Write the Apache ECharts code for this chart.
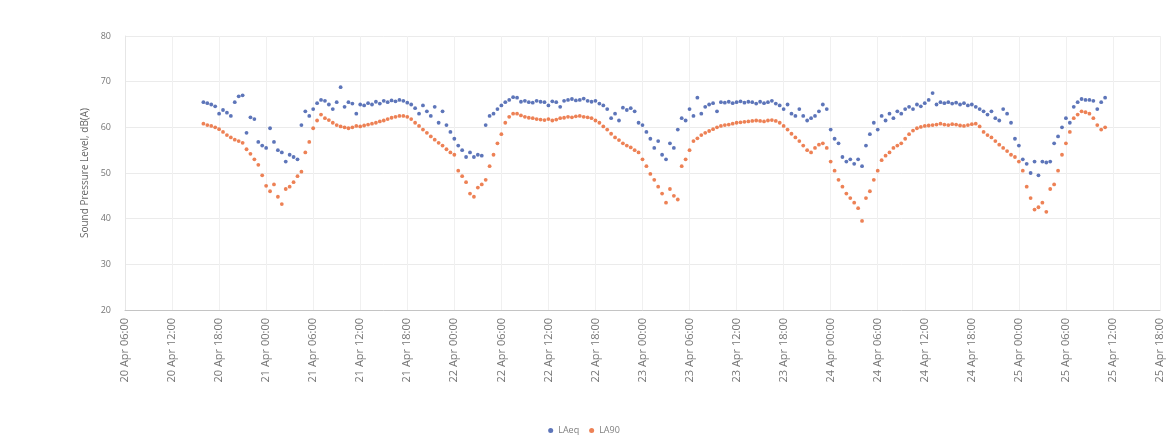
<!DOCTYPE html>
<html>
<head>
<meta charset="utf-8">
<script src="https://cdn.jsdelivr.net/npm/echarts@6/dist/echarts.min.js"></script>
<style>
html,body{margin:0;padding:0;background:#fff;}
#chart{width:1168px;height:443px;}
</style>
</head>
<body>
<div id="chart"></div>
<script>
// Time is counted in hours from 20 Apr 00:00. Readings every 30 minutes.
const startHour = 16;      // 20 Apr 16:00
const stepHours = 0.5;
const axisMinHour = 6;     // 20 Apr 06:00
const axisMaxHour = 138;   // 25 Apr 18:00
const tickHours = 6;
const monthLabel = 'Apr';
const firstDay = 20;

const seriesNames = ['LAeq', 'LA90'];

const laeq = [
  65.5,65.3,65.0,64.6,63.0,63.8,63.2,62.5,65.5,66.8,67.0,58.8,
  62.2,61.8,56.8,56.0,55.5,59.8,56.8,55.0,54.5,52.5,54.0,53.5,
  53.0,60.5,63.5,62.5,64.0,65.3,66.0,65.8,65.0,64.0,65.5,68.8,
  64.5,65.5,65.2,63.0,65.0,64.8,65.3,65.0,65.6,65.2,65.8,65.5,
  65.9,65.7,66.0,65.8,65.4,65.0,64.2,63.0,64.8,63.5,62.5,64.5,
  61.0,63.5,60.5,59.0,57.5,56.0,55.0,53.5,54.5,53.5,54.0,53.8,
  60.5,62.5,63.0,64.0,64.8,65.5,66.0,66.6,66.5,65.6,65.8,65.5,
  65.4,65.8,65.6,65.5,64.8,65.7,65.5,64.5,65.8,66.0,66.2,65.9,
  66.0,66.3,65.8,65.6,65.8,65.2,64.8,64.0,62.0,63.0,61.5,64.3,
  63.8,64.2,63.5,61.0,60.5,59.0,57.5,55.5,57.0,54.0,53.0,56.5,
  55.5,59.5,62.0,61.5,64.0,62.5,66.5,63.0,64.5,65.0,65.3,63.5,
  65.5,65.4,65.6,65.3,65.5,65.7,65.4,65.6,65.5,65.2,65.6,65.3,
  65.5,65.8,65.2,64.8,64.0,65.0,63.0,62.5,64.0,62.5,61.5,62.0,
  62.5,63.5,65.0,64.0,59.5,57.5,56.5,53.5,52.5,53.0,52.0,53.0,
  51.5,56.0,58.5,61.0,59.5,62.5,61.5,63.0,62.0,63.5,63.0,64.0,
  64.5,64.0,65.0,64.6,65.3,66.0,67.5,65.0,65.5,65.3,65.5,65.2,
  65.4,65.0,65.3,64.8,65.0,64.5,64.0,63.5,62.8,63.5,62.0,61.5,
  64.0,63.0,61.0,57.5,56.0,53.0,52.0,50.0,52.5,49.5,52.5,52.3,
  52.5,56.5,58.0,60.0,62.0,61.0,64.5,65.5,66.2,66.0,66.0,65.8,
  64.0,65.5,66.5
];

const la90 = [
  60.8,60.5,60.3,60.0,59.6,59.0,58.3,57.8,57.3,57.0,56.6,55.2,
  54.2,53.0,51.8,49.5,47.2,46.0,47.5,44.8,43.2,46.5,47.0,48.0,
  49.3,50.3,54.5,56.8,59.8,61.5,62.8,62.0,61.6,61.0,60.5,60.2,
  60.0,59.8,60.0,60.3,60.2,60.4,60.6,60.8,61.0,61.3,61.5,61.8,
  62.1,62.3,62.5,62.5,62.3,61.8,61.0,60.3,59.5,58.8,58.0,57.3,
  56.6,56.0,55.2,54.5,54.0,50.5,49.3,48.0,45.5,44.8,46.8,47.5,
  48.5,51.5,54.0,56.5,58.5,61.0,62.3,63.0,63.0,62.6,62.3,62.1,
  62.0,61.8,61.7,61.6,61.8,61.5,61.7,62.0,62.1,62.3,62.2,62.4,
  62.5,62.3,62.2,62.0,61.5,61.0,60.2,59.5,58.6,57.8,57.2,56.5,
  56.0,55.6,55.0,54.5,53.0,51.5,49.8,48.5,47.0,45.5,43.5,46.5,
  45.0,44.2,51.5,53.0,55.0,57.0,57.6,58.3,58.8,59.2,59.6,60.0,
  60.3,60.5,60.6,60.8,61.0,61.1,61.2,61.3,61.4,61.5,61.4,61.3,
  61.5,61.6,61.4,61.0,60.3,59.5,58.6,57.8,57.0,56.0,55.0,54.5,
  55.5,56.2,56.5,55.5,52.5,50.5,48.5,47.0,45.5,44.5,43.5,42.3,
  39.5,44.5,46.0,48.5,50.5,52.8,53.8,54.5,55.5,56.0,56.5,57.5,
  58.5,59.3,59.8,60.1,60.3,60.4,60.5,60.6,60.8,60.6,60.5,60.7,
  60.6,60.4,60.3,60.5,60.7,60.8,60.2,59.0,58.3,57.8,57.0,56.2,
  55.5,54.8,54.0,53.5,52.5,50.5,47.0,44.5,42.0,42.5,43.5,41.5,
  46.5,47.5,50.5,54.0,56.5,59.0,62.0,62.8,63.5,63.3,63.0,62.0,
  60.5,59.5,60.0
];

const yMin = 20, yMax = 80, yStep = 10;

function toPairs(vals) {
  return vals.map((v, i) => [startHour + i * stepHours, v]);
}
function pad2(n) { return (n < 10 ? '0' : '') + n; }
function hourLabel(h) {
  const day = firstDay + Math.floor(h / 24);
  const hr = Math.round(h % 24);
  return day + ' ' + monthLabel + ' ' + pad2(hr) + ':00';
}

const chart = echarts.init(document.getElementById('chart'), null, {renderer: 'canvas'});
const textColor = '#767676';
chart.setOption({
  backgroundColor: '#ffffff',
  animation: false,
  grid: {left: 125, right: 8, top: 36, bottom: 133},
  legend: {
    data: seriesNames,
    bottom: 3,
    left: 'center',
    itemWidth: 5,
    itemHeight: 5,
    itemGap: 10,
    icon: 'circle',
    textStyle: {color: '#7f7f7f', fontSize: 9, fontFamily: 'Open Sans'}
  },
  xAxis: {
    type: 'value',
    min: axisMinHour,
    max: axisMaxHour,
    interval: tickHours,
    axisLine: {show: true, lineStyle: {color: '#c4c4c4', width: 1}},
    axisTick: {show: false},
    splitLine: {show: true, lineStyle: {color: '#f0f0f0', width: 1}},
    axisLabel: {
      rotate: 90,
      color: textColor,
      fontSize: 11,
      fontFamily: 'Open Sans',
      margin: 8,
      showMinLabel: true,
      showMaxLabel: true,
      formatter: hourLabel
    }
  },
  yAxis: {
    type: 'value',
    min: yMin,
    max: yMax,
    interval: yStep,
    name: 'Sound Pressure Level, dB(A)',
    nameLocation: 'middle',
    nameGap: 34,
    nameRotate: 90,
    nameTextStyle: {color: '#666666', fontSize: 10, fontFamily: 'Open Sans'},
    axisLine: {show: true, lineStyle: {color: '#e6e6e6'}},
    axisTick: {show: false},
    splitLine: {show: true, lineStyle: {color: '#ebebeb', width: 1}},
    axisLabel: {color: textColor, fontSize: 9, fontFamily: 'Open Sans', margin: 14}
  },
  series: [
    {
      name: seriesNames[0],
      type: 'scatter',
      data: toPairs(laeq),
      symbol: 'circle',
      symbolSize: 3.8,
      itemStyle: {color: '#3453a8'},
      z: 3
    },
    {
      name: seriesNames[1],
      type: 'scatter',
      data: toPairs(la90),
      symbol: 'circle',
      symbolSize: 3.8,
      itemStyle: {color: '#e8612b'},
      z: 2
    }
  ]
});
</script>
</body>
</html>
